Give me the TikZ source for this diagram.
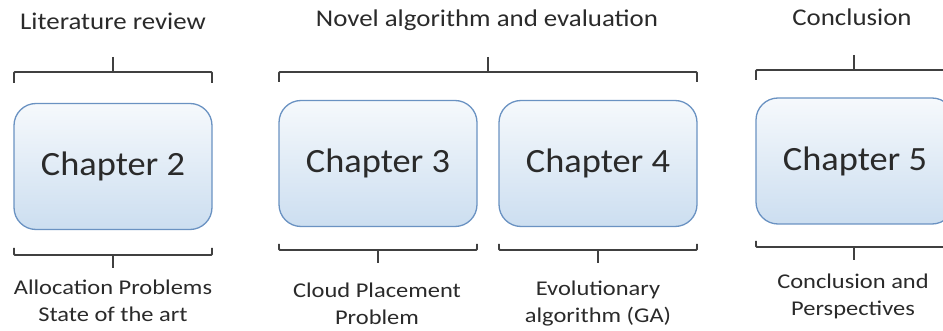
\documentclass[tikz,border=0pt]{standalone}
\usepackage{fontspec}
\setmainfont{Carlito}
\newfontfamily\chapfont[FakeStretch=1.07]{Carlito}
\newfontfamily\headfont[FakeStretch=1.12]{Carlito}
\newfontfamily\subfont[FakeStretch=1.165]{Carlito}
\usetikzlibrary{calc}
\definecolor{boxline}{HTML}{6A92C2}
\definecolor{boxtop}{HTML}{F6F9FC}
\definecolor{boxbot}{HTML}{CCDEF0}
\definecolor{brk}{HTML}{404040}
\definecolor{txt}{HTML}{2A2A2A}
\tikzset{
  chapbox/.style={draw=boxline, line width=1.3pt, rounded corners=22pt,
    top color=boxtop, bottom color=boxbot, minimum width=198pt,
    minimum height=126pt, inner sep=0pt, text=txt,
    font=\chapfont\fontsize{34}{40}\selectfont},
  head/.style={text=txt, inner sep=0pt, font=\headfont\fontsize{24}{28}\selectfont},
  sub/.style={text=txt, inner sep=0pt, align=center,
    font=\subfont\fontsize{21}{27}\selectfont},
  brace/.style={draw=brk, line width=1.8pt, rounded corners=1pt}
}
\begin{document}
\begin{tikzpicture}[x=1pt,y=-1pt]
\useasboundingbox (0,0) rectangle (943,331);
\clip (0,0) rectangle (943,331);
% boxes
\node[chapbox] (c2) at (113,166.5) {Chapter 2};
\node[chapbox] (c3) at (378,163.5) {Chapter 3};
\node[chapbox] (c4) at (598,163.5) {Chapter 4};
\node[chapbox] (c5) at (855,161) {Chapter 5};
% headers
\node[head] (h1) at (113,21) {Literature review};
\node[head] (h2) at (487,20) {Novel algorithm and evaluation};
\node[head] (h3) at (852,17) {Conclusion};
% bottom labels
\node[sub] (s2) at (113,300.5) {Allocation Problems\\State of the art};
\node[sub] (s3) at (377,304) {Cloud Placement\\Problem};
\node[sub] (s4) at (598,304) {Evolutionary\\algorithm (GA)};
\node[sub] (s5) at (853,296.5) {Conclusion and\\Perspectives};
% top brackets
\coordinate (t1) at (113,57);
\draw[brace] (14,83) -- (14,72) -- (212,72) -- (212,83);
\draw[brace] (t1) -- (113,72);
\coordinate (t2) at (488,57);
\draw[brace] (279,82) -- (279,72) -- (697,72) -- (697,82);
\draw[brace] (t2) -- (488,72);
\coordinate (t3) at (854,55);
\draw[brace] (756,80) -- (756,70) -- (954,70) -- (954,80);
\draw[brace] (t3) -- (854,70);
% bottom brackets
\draw[brace] (14,248) -- (14,255) -- (212,255) -- (212,248);
\draw[brace] (113,255) -- (113,268);
\draw[brace] (279,244) -- (279,250) -- (477,250) -- (477,244);
\draw[brace] (378,250) -- (378,263);
\draw[brace] (499,244) -- (499,250) -- (697,250) -- (697,244);
\draw[brace] (598,250) -- (598,263);
\draw[brace] (756,241) -- (756,247) -- (954,247) -- (954,241);
\draw[brace] (854,247) -- (854,260);
\end{tikzpicture}
\end{document}
